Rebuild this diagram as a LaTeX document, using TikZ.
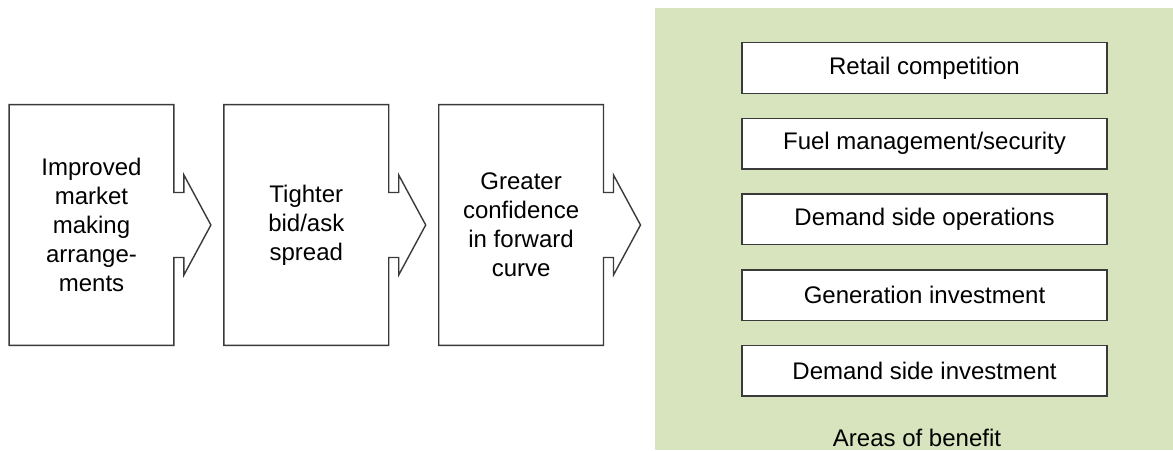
\documentclass[tikz,border=0pt]{standalone}
\usepackage{fontspec}
\setmainfont{Liberation Sans}
\usepackage{xcolor}
\definecolor{mgreen}{HTML}{D7E4BD}
\definecolor{mline}{HTML}{3A3A3A}
\usetikzlibrary{calc,positioning}

\begin{document}
\begin{tikzpicture}[x=0.5pt, y=-0.5pt,
    stage/.style={minimum width=82pt, minimum height=120pt, align=center,
      inner sep=0pt, font=\fontsize{12}{14.5}\selectfont},
    benefit/.style={draw=mline, line width=0.7pt, fill=white, minimum width=182.5pt,
      minimum height=25.25pt, inner sep=0pt, font=\fontsize{12}{14.5}\selectfont},
    outline/.style={draw=mline, line width=0.7pt, line join=miter}]

            \useasboundingbox (0,0) rectangle (1173,450);
            \fill[mgreen] (655,8) rectangle (1173,450);

            \node[stage] (imp) at (91.5,225) {Improved\\market\\making\\arrange-\\ments};
            \node[stage, right=25pt of imp] (tight) {Tighter\\bid/ask\\spread};
            \node[stage, right=25pt of tight] (conf) {Greater\\confidence\\in forward\\curve};

            % box with arrow on its right side
            \foreach \n in {imp,tight,conf}
              \draw[outline] (\n.north east) -- (\n.north west) -- (\n.south west) -- (\n.south east)
                -- ($(\n.east)+(0,32.5)$) -- ++(10,0) -- ++(0,17.5) -- ($(\n.east)+(37,0)$)
                -- ++(-27,-50) -- ++(0,17.5) -- ++(-10,0) -- cycle;

            \node[benefit] (retail) at (924.5,68) {Retail competition};
            \node[benefit, below=11.9pt of retail] (fuel) {Fuel management/security};
            \node[benefit, below=11.9pt of fuel] (dso) {Demand side operations};
            \node[benefit, below=11.9pt of dso] (gen) {Generation investment};
            \node[benefit, below=11.9pt of gen] (dsi) {Demand side investment};

            \node[font=\fontsize{12}{14.5}\selectfont] (areas) at (917,438) {Areas of benefit};

          \end{tikzpicture}
\end{document}
